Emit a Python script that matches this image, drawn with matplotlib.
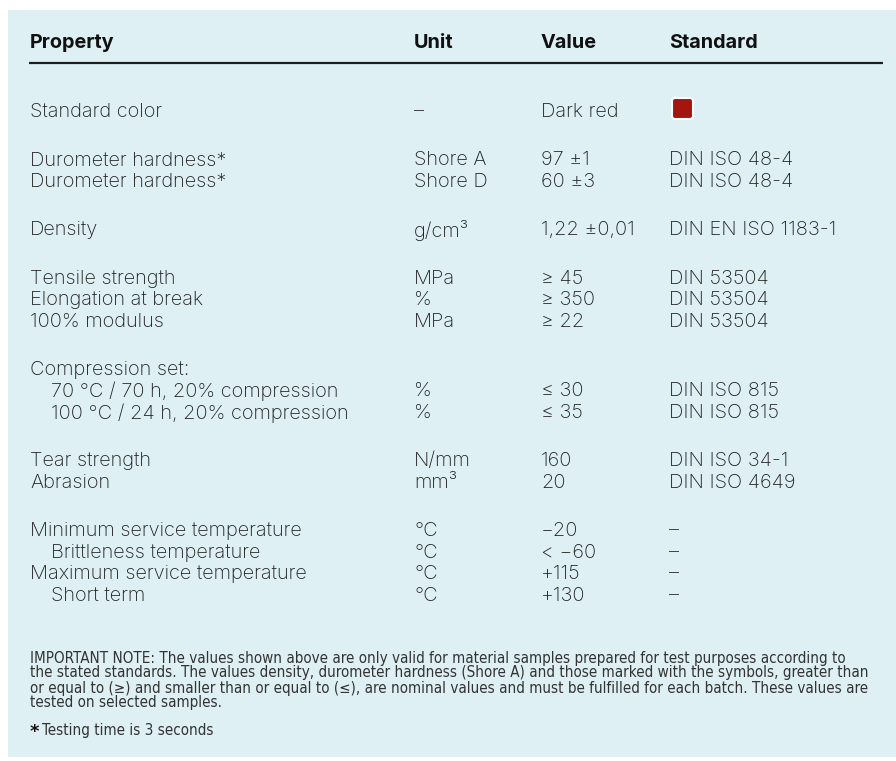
import matplotlib.pyplot as plt
from matplotlib.patches import Rectangle, FancyBboxPatch
from matplotlib import font_manager

# table data
headers = ['Property', 'Unit', 'Value', 'Standard']

groups = [
    [('Standard color', '–', 'Dark red', '')],
    [('Durometer hardness*', 'Shore A', '97 ±1', 'DIN ISO 48-4'),
     ('Durometer hardness*', 'Shore D', '60 ±3', 'DIN ISO 48-4')],
    [('Density', 'g/cm³', '1,22 ±0,01', 'DIN EN ISO 1183-1')],
    [('Tensile strength', 'MPa', '≥ 45', 'DIN 53504'),
     ('Elongation at break', '%', '≥ 350', 'DIN 53504'),
     ('100% modulus', 'MPa', '≥ 22', 'DIN 53504')],
    [('Compression set:', '', '', ''),
     ('>70 °C / 70 h, 20% compression', '%', '≤ 30', 'DIN ISO 815'),
     ('>100 °C / 24 h, 20% compression', '%', '≤ 35', 'DIN ISO 815')],
    [('Tear strength', 'N/mm', '160', 'DIN ISO 34-1'),
     ('Abrasion', 'mm³', '20', 'DIN ISO 4649')],
    [('Minimum service temperature', '°C', '−20', '–'),
     ('>Brittleness temperature', '°C', '< −60', '–'),
     ('Maximum service temperature', '°C', '+115', '–'),
     ('>Short term', '°C', '+130', '–')],
]

note_lines = [
    'IMPORTANT NOTE: The values shown above are only valid for material samples prepared for test purposes according to',
    'the stated standards. The values density, durometer hardness (Shore A) and those marked with the symbols, greater than',
    'or equal to (≥) and smaller than or equal to (≤), are nominal values and must be fulfilled for each batch. These values are',
    'tested on selected samples.',
]
footnote = 'Testing time is 3 seconds'
swatch_color = '#A3150F'

# fonts
names = {f.name for f in font_manager.fontManager.ttflist}
body_font = 'Inter' if 'Inter' in names else 'DejaVu Sans'

W, H = 896, 761
fig = plt.figure(figsize=(W / 100, H / 100), dpi=100)
ax = fig.add_axes([0, 0, 1, 1])
ax.set_xlim(0, W)
ax.set_ylim(H, 0)
ax.axis('off')
fig.patch.set_facecolor('white')

bg = '#DEF0F3'
ax.add_patch(Rectangle((8, 10), W - 8, 747, facecolor=bg, edgecolor='none', zorder=0))

col_x = [30, 414, 541, 669]
txt = '#222222'

# header
for x, h in zip(col_x, headers):
    ax.text(x, 43, h, fontsize=14.3, fontweight='bold', family=body_font,
            color='#111111', va='center', ha='left')
ax.plot([29, 883], [63, 63], color='#1e1e1e', lw=1.6, solid_capstyle='butt')

pitch = 21.5
gap = 2.25 * pitch
y = 112
for gi, grp in enumerate(groups):
    if gi > 0:
        y += gap - pitch
    for prop, unit, val, std in grp:
        indent = 0
        if prop.startswith('>'):
            prop = prop[1:]
            indent = 21
        for x, s in zip(col_x, [prop, unit, val, std]):
            if s:
                ax.text(x + (indent if x == col_x[0] else 0), y, s, fontsize=14.4,
                        fontweight='light', family=body_font, color=txt,
                        va='center', ha='left')
        if gi == 0:
            ax.add_patch(FancyBboxPatch((672, y - 14), 21, 21,
                                        boxstyle='round,pad=0,rounding_size=3',
                                        facecolor=swatch_color, edgecolor='white',
                                        lw=1.5, zorder=3))
        y += pitch

# note
ny = 658
for line in note_lines:
    ax.text(30, ny, line, fontsize=10.9, family='DejaVu Sans', color='#333333',
            va='center', ha='left', fontstretch='condensed')
    ny += 15
ax.text(30, 732, '*', fontsize=13, fontweight='bold', family='DejaVu Sans',
        color='#111111', va='center', ha='left')
ax.text(42, 730, footnote, fontsize=10.9, family='DejaVu Sans', color='#333333',
        va='center', ha='left', fontstretch='condensed')

fig.savefig('out.png', dpi=100, facecolor='white')
